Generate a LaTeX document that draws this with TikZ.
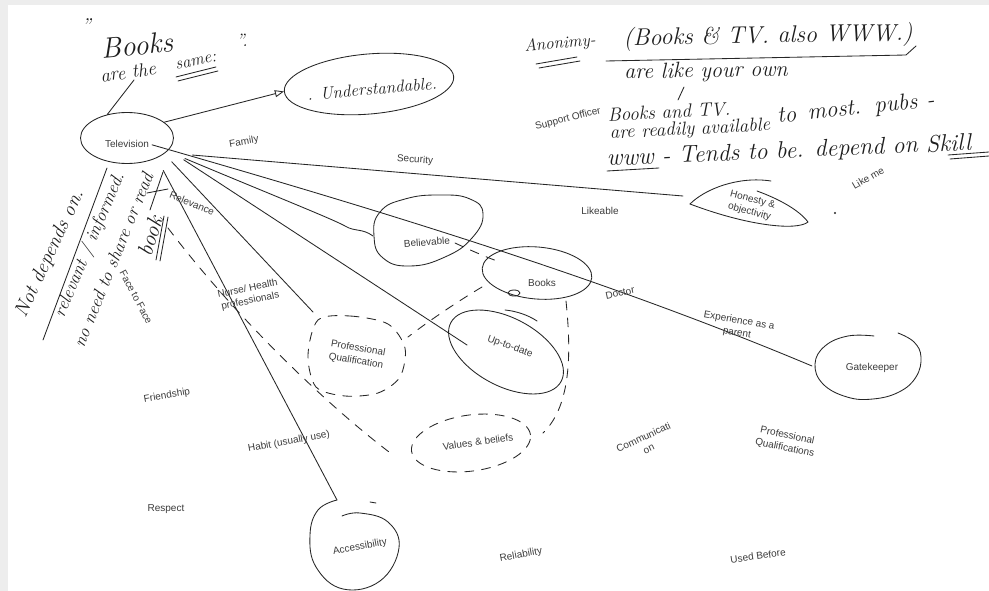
\documentclass[tikz,border=0pt]{standalone}
\usepackage{fontspec}
\newfontfamily\printfont{Liberation Sans}
\usetikzlibrary{arrows.meta,shapes.geometric}
\definecolor{paper}{HTML}{EDEDED}
\definecolor{inkc}{HTML}{262626}
\definecolor{pen}{HTML}{1E1E1E}
\definecolor{txt}{HTML}{3C3C3C}

\tikzset{
  ink/.style={draw=inkc, line width=0.85pt, line cap=round, line join=round},
  dashink/.style={ink, dash pattern=on 9pt off 8pt},
  lbl/.style={font=\printfont\fontsize{10}{12.5}\selectfont, text=txt, inner sep=0pt, align=center},
  hw/.style={text=pen, inner sep=0pt, font=\fontsize{#1}{#1}\selectfont\itshape},
  bub/.style={ellipse, ink, inner sep=0pt},
}

\begin{document}
\begin{tikzpicture}[x=1pt,y=-1pt]
\useasboundingbox (0,0) rectangle (989,591);
\fill[white] (0,0) rectangle (989,591);
\fill[paper] (0,0) rectangle (8,591);
\fill[paper] (0,0) rectangle (989,5);

% ---------- bubbles ----------
\node[bub, minimum width=93pt, minimum height=51pt] (tv) at (127,138) {};
\node[lbl] (tvt) at (127,144) {Television};

\node[bub, minimum width=170pt, minimum height=60pt, rotate=5] (und) at (369,84) {};
\node[hw=17, rotate=5] (undt) at (372,89) {. Understandable.};

\node[bub, minimum width=110pt, minimum height=52pt, rotate=-5] (bksE) at (537,273) {};
\draw[ink] (514,293) ellipse (6 and 3);
\node[bub, minimum width=125pt, minimum height=68pt, rotate=-28] (updE) at (506,352) {};
\draw[ink] (505,310) .. controls (516,311) and (528,315) .. (537,321);

% Believable
\draw[ink] plot[smooth cycle, tension=0.8] coordinates {(374,236) (380,212) (405,199) (440,195) (470,199) (483,214) (472,238) (445,257) (410,266) (383,258)};
% Honesty & objectivity
\draw[ink] (690,204) .. controls (705,189) and (738,176) .. (771,181);
\draw[ink] (757,191) .. controls (779,199) and (799,210) .. (808,222) .. controls (797,231) and (748,226) .. (690,204);
\fill[inkc] (835,213) circle (1.2);
% Professional Qualification (dashed)
\draw[dashink] plot[smooth cycle] coordinates {(318,320) (350,316) (388,324) (405,348) (400,377) (378,393) (345,396) (316,387) (308,355)};
% Values & beliefs (dashed)
\node[bub, dashink, minimum width=120pt, minimum height=56pt, rotate=8] (vbE) at (471,443) {};
% Accessibility
\draw[ink] plot[smooth, tension=0.7] coordinates {(337,500) (318,510) (310,535) (316,567) (343,589) (380,581) (399,548) (388,522) (360,513) (342,516)};
\draw[ink] (370,502) -- (376,503);
% Gatekeeper
\draw[ink] plot[smooth, tension=0.7] coordinates {(874,336) (848,336) (825,346) (815,364) (823,384) (847,397) (873,399) (899,392) (916,377) (921,357) (914,342) (898,333)};

% ---------- connector ends ----------
\coordinate (honL) at (683,196);
\coordinate (belL) at (373,236);
\coordinate (belR) at (455,243);
\coordinate (bksL) at (500,262);
\coordinate (bksLL) at (482,287);
\coordinate (bksB) at (566,301);
\coordinate (pqTop) at (313,312);
\coordinate (pqTR) at (408,337);
\coordinate (vbR) at (543,433);
\coordinate (vbL) at (393,455);
\coordinate (upIn) at (467,345);
\coordinate (accTop) at (337,500);
\coordinate (gateL) at (812,366);
\coordinate (dstart) at (168,228);

% ---------- connectors ----------
\draw[ink, -{Triangle[open, length=9pt, width=7pt]}] (tv.23) -- (und.west);
\draw[ink, shorten <=27pt] (tv.-21) -- (honL);
\draw[ink, shorten <=3pt] (tvt.east) .. controls (400,216) and (612,282) .. (gateL);
\draw[ink, shorten <=19pt] (tv.-18) .. controls (260,190) and (335,220) .. (345,226) .. controls (355,232) and (362,228) .. (belL);
\draw[ink, shorten <=18pt] (tv.-16) -- (upIn);
\draw[ink, shorten <=11pt] (tv.-23) -- (pqTop);
\draw[ink, shorten <=14pt] (tv.-34) -- (accTop);

\draw[dashink] (belR) .. controls (470,250) and (488,258) .. (bksL);
\draw[dashink] (bksLL) .. controls (460,300) and (430,320) .. (pqTR);
\draw[dashink] (bksB) .. controls (571,350) and (572,405) .. (vbR);
\draw[dashink] (dstart) .. controls (230,310) and (320,400) .. (vbL);

% ---------- printed labels ----------
\node[lbl, rotate=10] (fam) at (244,142) {Family};
\node[lbl, rotate=-4] (sec) at (415,160) {Security};
\node[lbl, rotate=14] (sup) at (568,119) {Support Officer};
\node[lbl, rotate=-22] (rel) at (192,203) {Relevance};
\node[lbl] (lik) at (600,211) {Likeable};
\node[lbl, rotate=30] (lme) at (868,178) {Like me};
\node[lbl, rotate=-15] (hon) at (751,206) {Honesty \&\\objectivity};
\node[lbl, rotate=4] (bel) at (427,242) {Believable};
\node[lbl] (bks) at (542,283) {Books};
\node[lbl, rotate=12] (doc) at (620,293) {Doctor};
\node[lbl, rotate=-10] (exp) at (738,327) {Experience as a\\parent};
\node[lbl, rotate=-20] (upd) at (510,347) {Up-to-date};
\node[lbl, rotate=12] (nur) at (249,295) {Nurse/ Health\\professionals};
\node[lbl, rotate=-10] (pq) at (357,355) {Professional\\Qualification};
\node[lbl, rotate=10] (fri) at (167,396) {Friendship};
\node[lbl, rotate=10] (hab) at (289,442) {Habit (usually use)};
\node[lbl, rotate=8] (vb) at (478,442) {Values \& beliefs};
\node[lbl, rotate=25] (com) at (646,443) {Communicati\\on};
\node[lbl, rotate=-12] (pqs) at (786,442) {Professional\\Qualifications};
\node[lbl] (res) at (166,509) {Respect};
\node[lbl, rotate=10] (acc) at (360,547) {Accessibility};
\node[lbl, rotate=10] (rlb) at (521,555) {Reliability};
\node[lbl, rotate=8] (ub) at (758,556) {Used Before};
\node[lbl] (gk) at (872,368) {Gatekeeper};
\node[lbl, rotate=-62] (f2f) at (136,297) {Face to Face};

% ---------- handwritten notes ----------
\node[hw=20] (q1) at (86,26) {''};
\node[hw=29, rotate=5] (n1) at (137,45) {Books};
\node[hw=19, rotate=8] (n2) at (128,72) {are the};
\node[hw=17, rotate=12] (n3) at (196,62) {same:};
\node[hw=18] (q2) at (242,40) {''.};
\draw[ink] (176,77) -- (216,67) (178,81) -- (218,71);
\coordinate (n2foot) at (134,80);
\draw[ink] (n2foot) -- (tv.130);

\node[hw=17, rotate=5] (an) at (560,44) {Anonimy-};
\draw[ink] (536,64) -- (577,57) (539,68) -- (580,61);
\node[hw=24, rotate=1] (bt) at (768,37) {(Books \& TV. also WWW.)};
\draw[ink] (606,61) -- (906,55) -- (916,46);
\node[hw=22, rotate=1] (al) at (706,72) {are like your own};
\draw[ink] (678,100) -- (684,87);
\node[hw=19, rotate=3] (bk) at (669,112) {Books and TV.};
\node[hw=23, rotate=6] (tm) at (856,109) {to\hspace{0.5em}most.\hspace{0.6em}pubs\hspace{0.4em}-};
\node[hw=19, rotate=3] (ra) at (690,130) {are readily available};
\node[hw=24, rotate=2.5, anchor=base west] (ww) at (607,166) {www - Tends to be. depend on Skill};
\draw[ink] (607,171) -- (659,168);
\draw[ink] (948,155) -- (989,152) (950,159) -- (989,156);

\node[hw=20, rotate=65] (nd) at (50,254) {Not depends on.};
\node[hw=18, rotate=67] (rl) at (90,245) {relevant / informed.};
\node[hw=18, rotate=68] (nn) at (113,260) {no need to share or read};
\node[hw=22, rotate=72] (bo) at (150,236) {book};
\draw[ink] (156,260) -- (164,216) (160,261) -- (168,217);
\draw[ink] (43,340) -- (107,168);
\draw[ink] (163,172) -- (150,210) (147,193) -- (168,189);
\end{tikzpicture}
\end{document}
